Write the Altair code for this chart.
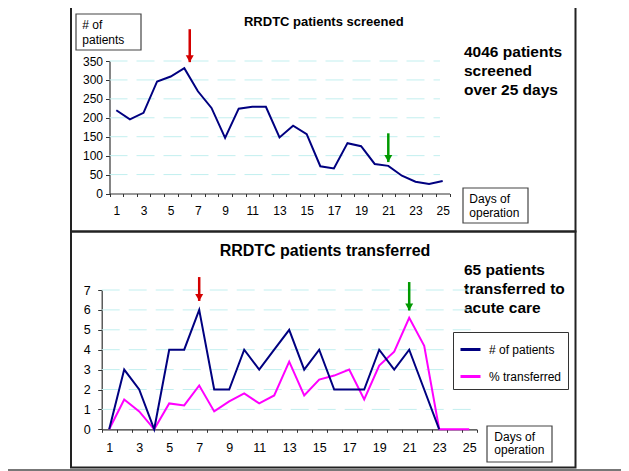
import altair as alt
import pandas as pd

# ---------------- data ----------------
days = list(range(1, 26))
screened = [220, 196, 213, 296, 309, 331, 270, 226, 147, 224, 229, 229, 148,
            179, 157, 72, 66, 133, 125, 78, 73, 47, 31, 25, 33]
transferred = [0, 3, 2, 0, 4, 4, 6, 2, 2, 4, 3, 4, 5, 3, 4, 2, 2, 2, 4, 3, 4, 2, 0,
               None, None]
pct_transferred = [0, 1.5, 0.9, 0, 1.3, 1.2, 2.2, 0.9, 1.4, 1.8, 1.3, 1.7, 3.4,
                   1.7, 2.5, 2.7, 3.0, 1.5, 3.2, 3.9, 5.6, 4.2, 0, 0, 0]

series_names = ["# of patients", "% transferred"]
y_ticks_top = [0, 50, 100, 150, 200, 250, 300, 350]
y_ticks_bottom = [0, 1, 2, 3, 4, 5, 6, 7]
x_boundaries = [i + 0.5 for i in range(0, 26)]

title_top = "RRDTC patients screened"
title_bottom = "RRDTC patients transferred"
note_top = ["4046 patients", "screened", "over 25 days"]
note_bottom = ["65 patients", "transferred to", "acute care"]
y_label_lines = ["# of", "patients"]
x_label_lines = ["Days of", "operation"]

# arrows: day position, top value, tip value
arrow_top_x = [6.4, 21]
arrow_top_from = [434, 159]
arrow_top_to = [347, 83]
arrow_bot_x = [7, 21]
arrow_bot_from = [7.65, 7.4]
arrow_bot_to = [6.45, 5.97]
arrow_kind = ["red", "green"]

# ---------------- styles ----------------
W, H = 613, 463
FONT = "Liberation Sans"
NAVY = "#000080"
MAGENTA = "#ff00ff"
RED = "#d40000"
GREEN = "#009900"
GRIDC = "#c2efef"
AXC = "#333333"
HEAD = "M-1,-1.75 L1,-1.75 L0,0 Z"


def sx_top():
    return alt.Scale(domain=[0.5, 25.5], range=[101.5, 441.5], nice=False, zero=False)


def sy_top():
    return alt.Scale(domain=[0, 350], range=[185.5, 53], nice=False, zero=False)


def sx_bot():
    return alt.Scale(domain=[0.5, 25.5], range=[93.7, 468.7], nice=False, zero=False)


def sy_bot():
    return alt.Scale(domain=[0, 7], range=[421.3, 282], nice=False, zero=False)


label_expr = ("(datum.value + 0.5) % 2 == 1 && datum.value < 25 ? "
              "'' + (datum.value + 0.5) : ''")


def x_axis(offset, half, fs):
    return alt.Axis(orient="bottom", offset=offset, values=x_boundaries,
                    labelExpr=label_expr, labelOffset=half, tickSize=3,
                    labelPadding=9, labelFontSize=fs, labelFont=FONT,
                    labelColor="black", title=None, grid=False,
                    labelFlush=False, labelOverlap=False, labelBound=False,
                    domainColor=AXC, tickColor=AXC, domainWidth=1.2)


def y_axis(offset, values, pad, fs):
    return alt.Axis(orient="left", offset=offset, values=values, tickSize=4,
                    labelPadding=pad, labelFontSize=fs, labelFont=FONT,
                    labelColor="black", title=None, grid=False,
                    labelFlush=False, labelOverlap=False, labelBound=False,
                    domainColor=AXC, tickColor=AXC, domainWidth=1.2)


one = pd.DataFrame({"a": [0]})


def text_line(txt, x, y, size, bold=False, align="left"):
    return alt.Chart(one).mark_text(
        text=txt, font=FONT, fontSize=size,
        fontWeight="bold" if bold else "normal", align=align,
        baseline="middle", color="black").encode(
        x=alt.value(x), y=alt.value(y))


def box(x1, x2, y1, y2, color="#444444", sw=1.2):
    return alt.Chart(one).mark_rect(
        fill="white", fillOpacity=0, stroke=color, strokeWidth=sw).encode(
        x=alt.value(x1), x2=alt.value(x2), y=alt.value(y1), y2=alt.value(y2))


layers = []

# ---------------- decorations ----------------
layers += [
    box(63, 567.5, -2, 223.5, color="#222222", sw=2),
    box(63, 567.5, 223.5, 459.5, color="#222222", sw=2),
    alt.Chart(one).mark_rule(color="#777777", strokeWidth=2).encode(
        x=alt.value(0), x2=alt.value(W), y=alt.value(462)),
    box(68, 133, 6, 42),
    box(455, 520, 180, 215),
    box(479, 544, 418, 454),
    text_line(title_top, 315.8, 13.7, 13, bold=True, align="center"),
    text_line(title_bottom, 317, 242.7, 16, bold=True, align="center"),
]
for i, t in enumerate(note_top):
    layers.append(text_line(t, 456, 44 + 19 * i, 15.5, bold=True))
for i, t in enumerate(note_bottom):
    layers.append(text_line(t, 456, 262 + 19 * i, 15.5, bold=True))
for i, t in enumerate(y_label_lines):
    layers.append(text_line(t, 74.3, 17 + 15 * i, 12))
for i, t in enumerate(x_label_lines):
    layers.append(text_line(t, 461.3, 191 + 14 * i, 12))
    layers.append(text_line(t, 486.3, 428.7 + 13.5 * i, 12))

# ---------------- top panel ----------------
df_top = pd.DataFrame({"day": days, "screened": screened})
layers.append(alt.Chart(pd.DataFrame({"v": y_ticks_top[1:]})).mark_rule(
    color=GRIDC, strokeDash=[18, 9], strokeWidth=1).encode(
    y=alt.Y("v:Q", scale=sy_top(), axis=None),
    x=alt.X(datum=0.5, type="quantitative", scale=sx_top(), axis=None),
    x2=alt.X2(datum=24.8)))

layers.append(alt.Chart(df_top).mark_line(color=NAVY, strokeWidth=2).encode(
    x=alt.X("day:Q", scale=sx_top(), axis=x_axis(185.5 - H, 6.8, 12)),
    y=alt.Y("screened:Q", scale=sy_top(), axis=y_axis(-101.5, y_ticks_top, 3, 12))))

df_arr_top = pd.DataFrame({"x": arrow_top_x, "y0": arrow_top_from,
                           "y1": arrow_top_to, "kind": arrow_kind})
df_arr_bot = pd.DataFrame({"x": arrow_bot_x, "y0": arrow_bot_from,
                           "y1": arrow_bot_to, "kind": arrow_kind})


def arrows(df, sx, sy):
    out = []
    for kind, col in (("red", RED), ("green", GREEN)):
        base = alt.Chart(df).transform_filter(alt.datum.kind == kind)
        out.append(base.mark_rule(color=col, strokeWidth=2.5).encode(
            x=alt.X("x:Q", scale=sx(), axis=None),
            y=alt.Y("y0:Q", scale=sy(), axis=None),
            y2=alt.Y2("y1:Q")))
        out.append(base.mark_point(shape=HEAD, filled=True, size=64,
                                   color=col, opacity=1).encode(
            x=alt.X("x:Q", scale=sx(), axis=None),
            y=alt.Y("y1:Q", scale=sy(), axis=None)))
    return out


layers += arrows(df_arr_top, sx_top, sy_top)

# ---------------- bottom panel ----------------
df_bot = pd.DataFrame({"day": days, "patients": transferred, "pct": pct_transferred})
layers.append(alt.Chart(pd.DataFrame({"v": y_ticks_bottom[1:]})).mark_rule(
    color=GRIDC, strokeDash=[18, 9], strokeWidth=1).encode(
    y=alt.Y("v:Q", scale=sy_bot(), axis=None),
    x=alt.X(datum=0.5, type="quantitative", scale=sx_bot(), axis=None),
    x2=alt.X2(datum=25.5)))

color_scale = alt.Scale(domain=series_names, range=[NAVY, MAGENTA])
legend = alt.Legend(orient="none", legendX=445, legendY=324, title=None,
                    strokeColor="#333333", fillColor="white", padding=6,
                    rowPadding=9, symbolType="stroke", symbolSize=400,
                    symbolStrokeWidth=3, labelFontSize=12, labelFont=FONT,
                    labelColor="black", labelOffset=7)

layers.append(alt.Chart(df_bot).transform_calculate(
    series="'" + series_names[1] + "'").mark_line(strokeWidth=2).encode(
    x=alt.X("day:Q", scale=sx_bot(), axis=None),
    y=alt.Y("pct:Q", scale=sy_bot(), axis=None),
    color=alt.Color("series:N", scale=color_scale, legend=legend)))

layers.append(alt.Chart(df_bot).transform_calculate(
    series="'" + series_names[0] + "'").mark_line(strokeWidth=2).encode(
    x=alt.X("day:Q", scale=sx_bot(), axis=x_axis(421.3 - H, 7.5, 12.5)),
    y=alt.Y("patients:Q", scale=sy_bot(),
            axis=y_axis(-93.7, y_ticks_bottom, 7.5, 12.5)),
    color=alt.Color("series:N", scale=color_scale, legend=legend)))

layers += arrows(df_arr_bot, sx_bot, sy_bot)

chart = alt.layer(*layers).resolve_scale(
    x="independent", y="independent"
).resolve_axis(
    x="independent", y="independent"
).properties(
    width=W, height=H, padding=0,
    autosize=alt.AutoSizeParams(type="none"),
    background="white",
).configure_view(stroke=None)

chart.save("out.html", embed_options={"renderer": "svg", "actions": False})
